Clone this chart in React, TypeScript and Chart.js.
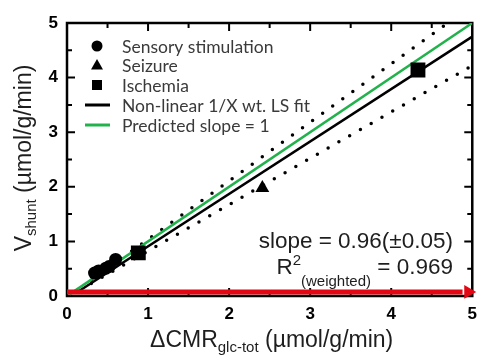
import React, { useEffect, useRef } from 'react';
import { Chart, registerables } from 'chart.js';

Chart.register(...registerables);

// ---- data ----
const sensoryX = [0.34, 0.39, 0.48, 0.52, 0.6];
const sensoryY = [0.42, 0.46, 0.51, 0.54, 0.67];
const seizureX = [2.41];
const seizureY = [1.98];
const ischemiaX = [0.88, 4.33];
const ischemiaY = [0.79, 4.14];

const fitX = [0.12, 5];
const fitY = [0.065, 4.75];
const predictedX = [0.03, 5];
const predictedY = [0.03, 5];
const upperBandX = [0.3, 4.7];
const upperBandY = [0.29, 5.0];
const lowerBandX = [0.3, 5];
const lowerBandY = [0.23, 4.22];

const arrowX = [0, 4.88];
const arrowY = [0.075, 0.075];
const arrowHeadX = [4.95];
const arrowHeadY = [0.075];

const tickValues = [0.5, 1, 1.5, 2, 2.5, 3, 3.5, 4, 4.5];

const legendLabels = [
  'Sensory stimulation',
  'Seizure',
  'Ischemia',
  'Non-linear 1/X wt. LS fit',
  'Predicted slope = 1',
];

const slopeText = 'slope = 0.96(\u00B10.05)';
const r2Value = ' = 0.969';

const GREEN = '#22b24c';
const RED = '#e30613';
const SANS = '"Liberation Sans", Arial, sans-serif';

const pts = (xs: number[], ys: number[]) => xs.map((x, i) => ({ x, y: ys[i] }));

type Part = { t: string; size: number; dy: number };

function drawParts(ctx: CanvasRenderingContext2D, parts: Part[], x: number, y: number, align: 'left' | 'center' | 'right') {
  let total = 0;
  const widths = parts.map((p) => {
    ctx.font = `${p.size}px ${SANS}`;
    const w = ctx.measureText(p.t).width;
    total += w;
    return w;
  });
  let cx = align === 'left' ? x : align === 'center' ? x - total / 2 : x - total;
  ctx.textAlign = 'left';
  ctx.textBaseline = 'alphabetic';
  parts.forEach((p, i) => {
    ctx.font = `${p.size}px ${SANS}`;
    ctx.fillText(p.t, cx, y + p.dy);
    cx += widths[i];
  });
}

const framePlugin = {
  id: 'frameTicks',
  beforeDatasetsDraw(chart: any) {
    const { ctx, chartArea } = chart;
    const { left, top, right, bottom } = chartArea;
    const xs = chart.scales.x;
    const ys = chart.scales.y;
    ctx.save();
    ctx.strokeStyle = '#000';
    ctx.lineWidth = 2.5;
    ctx.strokeRect(left, top, right - left, bottom - top);
    ctx.lineWidth = 2;
    ctx.beginPath();
    tickValues.forEach((v) => {
      const len = Number.isInteger(v) ? 8 : 5;
      const px = xs.getPixelForValue(v);
      ctx.moveTo(px, bottom);
      ctx.lineTo(px, bottom - len);
      ctx.moveTo(px, top);
      ctx.lineTo(px, top + len);
      const py = ys.getPixelForValue(v);
      ctx.moveTo(left, py);
      ctx.lineTo(left + len, py);
      ctx.moveTo(right, py);
      ctx.lineTo(right - len, py);
    });
    ctx.stroke();
    ctx.restore();
  },
  afterDraw(chart: any) {
    const { ctx, chartArea } = chart;
    const { left, right } = chartArea;
    ctx.save();

    // ---- legend ----
    const symX = 97;
    const lineX0 = 85;
    const lineX1 = 110;
    const textX = 122;
    const rowY = [46, 65, 85, 105, 125];
    ctx.fillStyle = '#000';
    ctx.beginPath();
    ctx.arc(symX, rowY[0], 5.5, 0, Math.PI * 2);
    ctx.fill();
    ctx.beginPath();
    ctx.moveTo(symX, rowY[1] - 6);
    ctx.lineTo(symX + 6, rowY[1] + 4.5);
    ctx.lineTo(symX - 6, rowY[1] + 4.5);
    ctx.closePath();
    ctx.fill();
    ctx.fillRect(symX - 5, rowY[2] - 5, 10, 10);
    ctx.lineWidth = 3;
    ctx.strokeStyle = '#000';
    ctx.beginPath();
    ctx.moveTo(lineX0, rowY[3]);
    ctx.lineTo(lineX1, rowY[3]);
    ctx.stroke();
    ctx.strokeStyle = GREEN;
    ctx.beginPath();
    ctx.moveTo(lineX0, rowY[4]);
    ctx.lineTo(lineX1, rowY[4]);
    ctx.stroke();

    ctx.fillStyle = '#3a3a3a';
    ctx.font = '17.5px Lato, "Open Sans", sans-serif';
    ctx.textAlign = 'left';
    ctx.textBaseline = 'middle';
    legendLabels.forEach((lab, i) => ctx.fillText(lab, textX, rowY[i] + 1));

    // ---- annotation ----
    ctx.fillStyle = '#1e1e1e';
    drawParts(ctx, [{ t: slopeText, size: 22.5, dy: 0 }], 453, 248, 'right');
    drawParts(
      ctx,
      [
        { t: 'R', size: 22.5, dy: 0 },
        { t: '2', size: 15, dy: -9 },
        { t: '(weighted)', size: 15, dy: 12 },
        { t: r2Value, size: 22.5, dy: 0 },
      ],
      453,
      274,
      'right'
    );

    // ---- axis titles ----
    drawParts(
      ctx,
      [
        { t: '\u0394CMR', size: 23, dy: 0 },
        { t: 'glc-tot', size: 15, dy: 5 },
        { t: ' (\u00B5mol/g/min)', size: 23, dy: 0 },
      ],
      (left + right) / 2 + 2,
      347,
      'center'
    );
    ctx.save();
    ctx.translate(31, 158);
    ctx.rotate(-Math.PI / 2);
    drawParts(
      ctx,
      [
        { t: 'V', size: 23, dy: 0 },
        { t: 'shunt', size: 15, dy: 5 },
        { t: ' (\u00B5mol/g/min)', size: 23, dy: 0 },
      ],
      0,
      0,
      'center'
    );
    ctx.restore();

    ctx.restore();
  },
};

export default function App() {
  const ref = useRef<HTMLCanvasElement | null>(null);

  useEffect(() => {
    if (!ref.current) return;
    const lineDs = (data: any[], color: string, width: number, dash?: number[]) => ({
      type: 'line' as const,
      data,
      borderColor: color,
      backgroundColor: color,
      borderWidth: width,
      borderDash: dash || [],
      borderCapStyle: dash ? 'round' : 'butt',
      pointRadius: 0,
      showLine: true,
      fill: false,
    });
    const chart = new Chart(ref.current, {
      type: 'scatter',
      data: {
        datasets: [
          {
            label: 'Sensory stimulation',
            data: pts(sensoryX, sensoryY),
            pointStyle: 'circle',
            pointRadius: 6.5,
            backgroundColor: '#000',
            borderColor: '#000',
            borderWidth: 0,
          },
          {
            label: 'Seizure',
            data: pts(seizureX, seizureY),
            pointStyle: 'triangle',
            pointRadius: 8,
            backgroundColor: '#000',
            borderColor: '#000',
            borderWidth: 0,
          },
          {
            label: 'Ischemia',
            data: pts(ischemiaX, ischemiaY),
            pointStyle: 'rect',
            pointRadius: 10.5,
            backgroundColor: '#000',
            borderColor: '#000',
            borderWidth: 0,
          },
          {
            label: 'arrowhead',
            data: pts(arrowHeadX, arrowHeadY),
            pointStyle: 'triangle',
            rotation: 90,
            pointRadius: 8,
            backgroundColor: RED,
            borderColor: RED,
            borderWidth: 0,
            clip: false,
          } as any,
          { label: 'arrow', ...lineDs(pts(arrowX, arrowY), RED, 5), clip: false } as any,
          { label: 'Predicted slope = 1', ...lineDs(pts(predictedX, predictedY), GREEN, 2.5) } as any,
          { label: 'Non-linear 1/X wt. LS fit', ...lineDs(pts(fitX, fitY), '#000', 2.5) } as any,
          { label: 'upper', ...lineDs(pts(upperBandX, upperBandY), '#000', 3.5, [0, 12.4]) } as any,
          { label: 'lower', ...lineDs(pts(lowerBandX, lowerBandY), '#000', 3.5, [0, 12.4]) } as any,
        ],
      },
      options: {
        responsive: false,
        animation: false,
        devicePixelRatio: 1,
        layout: { padding: { left: 0, top: 23, right: 8, bottom: 0 } },
        plugins: { legend: { display: false }, tooltip: { enabled: false }, title: { display: false } },
        scales: {
          x: {
            type: 'linear',
            min: 0,
            max: 5,
            afterFit: (s: any) => {
              s.height = 61;
            },
            grid: { display: false, drawTicks: false },
            border: { display: false },
            ticks: {
              stepSize: 1,
              padding: 8,
              color: '#000',
              font: { family: 'Liberation Sans', size: 17, weight: 'bold' },
              maxRotation: 0,
            },
          },
          y: {
            type: 'linear',
            min: 0,
            max: 5,
            afterFit: (s: any) => {
              s.width = 67;
            },
            grid: { display: false, drawTicks: false },
            border: { display: false },
            ticks: {
              stepSize: 1,
              padding: 9,
              color: '#000',
              font: { family: 'Liberation Sans', size: 17, weight: 'bold' },
            },
          },
        },
      } as any,
      plugins: [framePlugin],
    });
    return () => chart.destroy();
  }, []);

  return (
    <div style={{ position: 'fixed', left: 0, top: 0, width: 485, height: 357, background: '#fff' }}>
      <canvas ref={ref} width={485} height={357} style={{ display: 'block', width: 485, height: 357 }} />
    </div>
  );
}
